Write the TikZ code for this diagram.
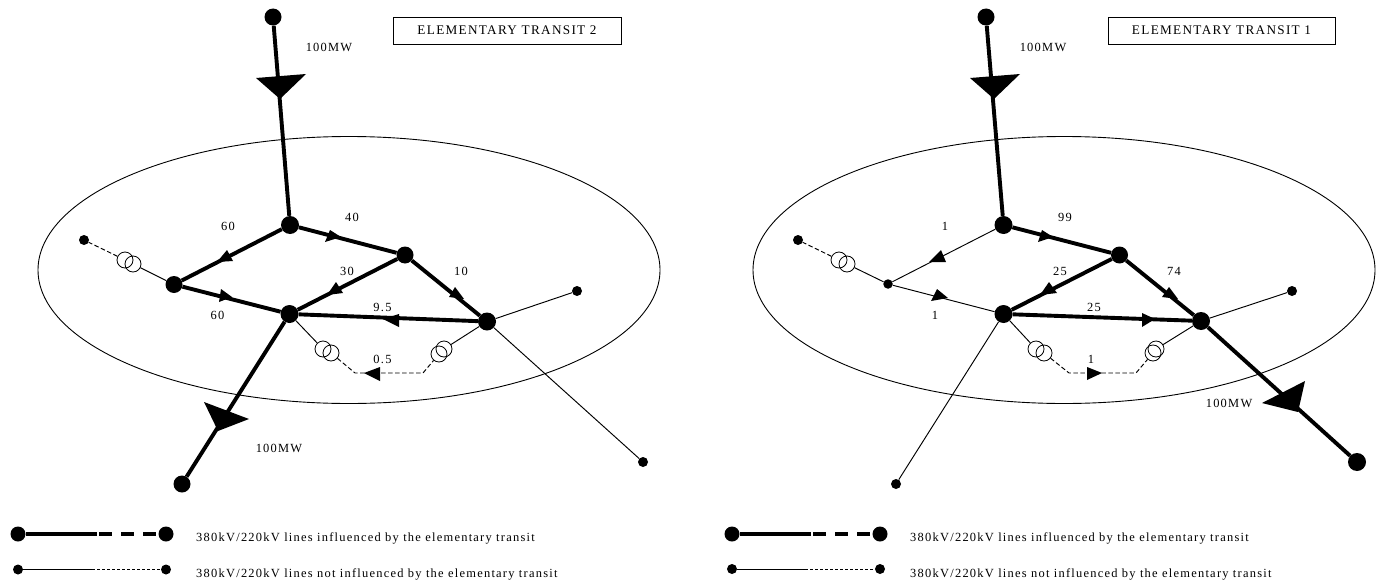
\documentclass[tikz,border=0pt]{standalone}
\usepackage{fontspec}
\setmainfont[LetterSpace=10]{Liberation Serif}
\usetikzlibrary{shapes.geometric}
\tikzset{
 base/.style={font=\fontsize{12.45}{14}\selectfont},
 heavyline/.style={line width=3.9pt,black},
 thinline/.style={line width=0.95pt,black},
 thindash/.style={line width=0.95pt,black,dash pattern=on 4.5pt off 2.5pt},
 keydash/.style={line width=0.95pt,black,dash pattern=on 3pt off 2pt},
 bignode/.style={circle,fill=black,inner sep=0pt,minimum size=17pt},
 smallnode/.style={circle,fill=black,inner sep=0pt,minimum size=9.5pt},
 endnode/.style={circle,fill=black,inner sep=0pt,minimum size=10pt},
 winding/.style={circle,draw=black,line width=0.8pt,inner sep=0pt,minimum size=16pt},
 label/.style={base,inner sep=0pt,anchor=center},
 legendtext/.style={base,inner sep=0pt,anchor=west},
 titlebox/.style={draw=black,line width=0.9pt,font=\fontsize{13.2}{15}\selectfont,inner sep=0pt,minimum height=27pt},
 area/.style={ellipse,draw=black,line width=0.9pt,inner sep=0pt,minimum width=622pt,minimum height=267pt},
}
\begin{document}
\begin{tikzpicture}[x=1pt,y=-1pt]
\useasboundingbox (0,0) rectangle (1380,586);
% ---- left panel
\node[area] (eL) at (349,270) {};
\node[titlebox,minimum width=228pt] (tL) at (507,30.5) {ELEMENTARY TRANSIT 2};
\node[bignode] (Lt) at (273,17) {};
\node[bignode,minimum size=18pt] (La) at (290,225) {};
\node[bignode] (Lb) at (405,255) {};
\node[bignode] (Lc) at (174,284.5) {};
\node[bignode,minimum size=18pt] (Ld) at (289.5,314) {};
\node[bignode,minimum size=18pt] (Le) at (487,321.5) {};
\node[endnode] (Lf) at (84,240) {};
\node[endnode] (Lg) at (577,291) {};
\node[endnode] (Lh) at (643,462) {};
\node[bignode] (Li) at (182,484) {};
\node[winding] (Lw1) at (125,260) {};
\node[winding] (Lw2) at (133,264) {};
\node[winding] (Lw3) at (323,349) {};
\node[winding] (Lw4) at (331,353) {};
\node[winding] (Lw5) at (444,349) {};
\node[winding] (Lw6) at (439,354) {};
\coordinate (Ls1) at (355,373);
\coordinate (Ls2) at (423,373);
\draw[heavyline] (Lt) -- (La);
\draw[heavyline] (La) -- (Lb);
\draw[heavyline] (La) -- (Lc);
\draw[heavyline] (Lc) -- (Ld);
\draw[heavyline] (Lb) -- (Ld);
\draw[heavyline] (Lb) -- (Le);
\draw[heavyline] (Le) -- (Ld);
\draw[heavyline] (Ld) -- (Li);
\draw[thinline] (Lc) -- (Lw2);
\draw[thindash] (Lw1) -- (Lf);
\draw[thinline] (Ld) -- (Lw3);
\draw[thindash] (Lw4) -- (Ls1) -- (Ls2) -- (Lw6);
\draw[thinline] (Lw5) -- (Le);
\draw[thinline] (Le) -- (Lg);
\draw[thinline] (Le) -- (Lh);
\fill (256,78) -- (306,74) -- (280,99) -- cycle;
\fill (204,402) -- (249,419) -- (218,431) -- cycle;
\fill (217,262) -- (227,250) -- (233,261) -- cycle;
\fill (341,237) -- (330,230) -- (325,242) -- cycle;
\fill (232,297) -- (221,289) -- (219,302) -- cycle;
\fill (327,295) -- (336,282) -- (343,293) -- cycle;
\fill (464,299) -- (455,287) -- (449,297) -- cycle;
\fill (383,319) -- (399,314) -- (399,327) -- cycle;
\fill (364,373) -- (380,367) -- (380,381) -- cycle;
\node[label] (L100a) at (329,47) {100MW};
\node[label] (L100b) at (279,448) {100MW};
\node[label] (L60a) at (228,226) {60};
\node[label] (L40) at (352,217) {40};
\node[label] (L30) at (347,271) {30};
\node[label] (L10) at (461,271) {10};
\node[label] (L95) at (382.5,307) {9.5};
\node[label] (L60b) at (217.5,315) {60};
\node[label] (L05) at (382.5,359.5) {0.5};
% legend left
\node[bignode,minimum size=15pt] (Lk1) at (18,534) {};
\node[bignode,minimum size=15pt] (Lk2) at (166,534) {};
\coordinate (Lk3) at (97,534);
\draw[heavyline] (Lk1) -- (Lk3);
\draw[heavyline,dash pattern=on 13pt off 9pt] (Lk3) ++(2,0) -- (Lk2);
\node[endnode] (Lk4) at (18,569.5) {};
\node[endnode] (Lk5) at (166,569.5) {};
\coordinate (Lk6) at (92,569.5);
\draw[thinline] (Lk4) -- (Lk6);
\draw[keydash] (Lk6) -- (Lk5);
\node[legendtext] (Lk7) at (196,538) {380kV/220kV lines influenced by the elementary transit};
\node[legendtext] (Lk8) at (196,574) {380kV/220kV lines not influenced by the elementary transit};
% ---- right panel
\node[area] (eR) at (1064,270) {};
\node[titlebox,minimum width=227pt] (tR) at (1221.5,30.5) {ELEMENTARY TRANSIT 1};
\node[bignode] (Rt) at (986,17) {};
\node[bignode,minimum size=18pt] (Ra) at (1003.5,225) {};
\node[bignode] (Rb) at (1119.5,255) {};
\node[smallnode] (Rc) at (888,284) {};
\node[bignode,minimum size=18pt] (Rd) at (1003.5,314) {};
\node[bignode,minimum size=18pt] (Re) at (1201,321) {};
\node[endnode] (Rf) at (798,240) {};
\node[endnode] (Rg) at (1292,291) {};
\node[bignode,minimum size=18pt] (Rh) at (1357,462) {};
\node[endnode] (Ri) at (896,484) {};
\node[winding] (Rw1) at (839,260) {};
\node[winding] (Rw2) at (847,264) {};
\node[winding] (Rw3) at (1036,349) {};
\node[winding] (Rw4) at (1044,353) {};
\node[winding] (Rw5) at (1156,349) {};
\node[winding] (Rw6) at (1153,353) {};
\coordinate (Rs1) at (1069,373);
\coordinate (Rs2) at (1136,373);
\draw[heavyline] (Rt) -- (Ra);
\draw[heavyline] (Ra) -- (Rb);
\draw[thinline] (Ra) -- (Rc);
\draw[thinline] (Rc) -- (Rd);
\draw[heavyline] (Rb) -- (Rd);
\draw[heavyline] (Rb) -- (Re);
\draw[heavyline] (Rd) -- (Re);
\draw[thinline] (Rd) -- (Ri);
\draw[thinline] (Rc) -- (Rw2);
\draw[thindash] (Rw1) -- (Rf);
\draw[thinline] (Rd) -- (Rw3);
\draw[thindash] (Rw4) -- (Rs1) -- (Rs2) -- (Rw6);
\draw[thinline] (Rw5) -- (Re);
\draw[thinline] (Re) -- (Rg);
\draw[heavyline] (Re) -- (Rh);
\fill (970,78) -- (1020,74) -- (994,99) -- cycle;
\fill (1262,403) -- (1305,381) -- (1298,412) -- cycle;
\fill (929,262) -- (941,250) -- (946,262) -- cycle;
\fill (1053,237) -- (1042,230) -- (1038,242) -- cycle;
\fill (948,298) -- (937,289) -- (931,301) -- cycle;
\fill (1040,295) -- (1049,282) -- (1057,293) -- cycle;
\fill (1178,299) -- (1169,287) -- (1162,297) -- cycle;
\fill (1155,319) -- (1142,313) -- (1142,327) -- cycle;
\fill (1102,373) -- (1087,367) -- (1087,380) -- cycle;
\node[label] (R100a) at (1043,47) {100MW};
\node[label] (R100b) at (1229,403.5) {100MW};
\node[label] (R1a) at (945,226) {1};
\node[label] (R99) at (1065,217) {99};
\node[label] (R25a) at (1060,271) {25};
\node[label] (R74) at (1174,271) {74};
\node[label] (R25b) at (1094,307) {25};
\node[label] (R1b) at (935,315) {1};
\node[label] (R1c) at (1091,359.5) {1};
% legend right
\node[bignode,minimum size=15pt] (Rk1) at (732,534) {};
\node[bignode,minimum size=15pt] (Rk2) at (880,534) {};
\coordinate (Rk3) at (811,534);
\draw[heavyline] (Rk1) -- (Rk3);
\draw[heavyline,dash pattern=on 13pt off 9pt] (Rk3) ++(2,0) -- (Rk2);
\node[endnode] (Rk4) at (732,569) {};
\node[endnode] (Rk5) at (880,569) {};
\coordinate (Rk6) at (805,569);
\draw[thinline] (Rk4) -- (Rk6);
\draw[keydash] (Rk6) -- (Rk5);
\node[legendtext] (Rk7) at (910,538) {380kV/220kV lines influenced by the elementary transit};
\node[legendtext] (Rk8) at (910,574) {380kV/220kV lines not influenced by the elementary transit};
\end{tikzpicture}
\end{document}
